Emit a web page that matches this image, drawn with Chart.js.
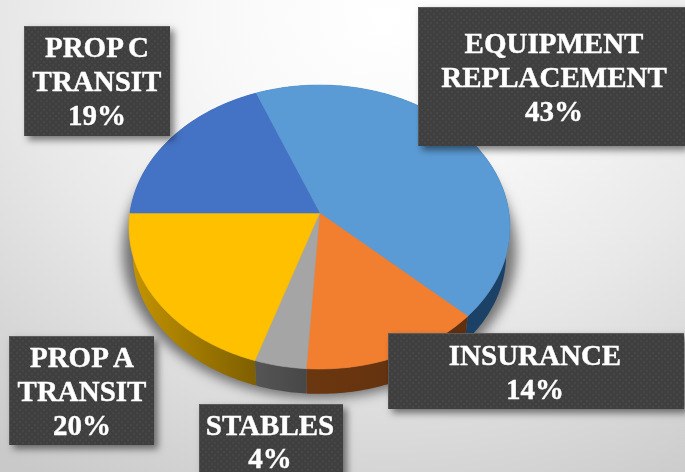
<!DOCTYPE html>
<html>
<head>
<meta charset="utf-8">
<style>
html,body{margin:0;padding:0;width:685px;height:472px;overflow:hidden;
background:radial-gradient(ellipse 640px 540px at 56% 4%,#ffffff 0%,#f8f8f8 28%,#e8e8e8 58%,#d8d8d8 80%,#c9c9c9 100%);}
canvas{display:block;}
</style>
<script src="https://cdn.jsdelivr.net/npm/chart.js@4"></script>
</head>
<body>
<canvas id="c" width="685" height="472"></canvas>
<script>
const categories = ["EQUIPMENT REPLACEMENT", "INSURANCE", "STABLES", "PROP A TRANSIT", "PROP C TRANSIT"];
const values = [43, 14, 4, 20, 19];
const labelLines = [["EQUIPMENT", "REPLACEMENT"], ["INSURANCE"], ["STABLES"], ["PROP A", "TRANSIT"], ["PROP C", "TRANSIT"]];
const topColors = ["#5B9BD5", "#F27F2F", "#A5A5A5", "#FFC000", "#4472C4"];
const sideColors = [["#1F4E79", "#1B4166"], ["#6B3710", "#5F2F0E"], ["#555555", "#474747"], ["#C49400", "#7F6000"], ["#2A4A80", "#2A4A80"]];

// label box geometry, in the same order as categories
const boxes = [
  {x:418, y:7,   w:267, h:139, cx:554, base:[53,87,121]},
  {x:388, y:333, w:296, h:76,  cx:535, base:[365,399]},
  {x:199, y:404, w:144, h:80,  cx:270, base:[435,468]},
  {x:9,   y:336, w:145, h:109, cx:82,  base:[367,401,435]},
  {x:24,  y:26,  w:146, h:110, cx:97,  base:[57,91,125]}
];

// perspective projection of the pie disc
const P = {cx:319.5, cy:213, A:189.5, B:140.6, k:0.0986, depth:28, baseScale:0.98};
function project(a, lower, grow) {
  const u = Math.cos(a), v = Math.sin(a), d = 1 - P.k * v, s = grow || 1;
  let x = P.A * u / d * s, y = P.B * v / d * s;
  if (lower) { x *= P.baseScale; y = y * P.baseScale + P.depth; }
  return [P.cx + x, P.cy + y];
}

// pie slices keep the library's computed angles; only the projection differs
Chart.ArcElement.prototype.draw = function (ctx) {
  const a0 = this.startAngle, a1 = this.endAngle, n = Math.max(8, Math.ceil((a1 - a0) * 60));
  ctx.save();
  ctx.beginPath();
  ctx.moveTo(P.cx, P.cy);
  for (let i = 0; i <= n; i++) {
    const p = project(a0 + (a1 - a0) * i / n);
    ctx.lineTo(p[0], p[1]);
  }
  ctx.closePath();
  ctx.fillStyle = this.options.backgroundColor;
  ctx.strokeStyle = this.options.backgroundColor;
  ctx.lineWidth = 0.6;
  ctx.fill();
  ctx.stroke();
  ctx.restore();
};

function dotPattern(ctx) {
  const t = document.createElement("canvas");
  t.width = 6; t.height = 6;
  const g = t.getContext("2d");
  g.fillStyle = "#3f3f3f"; g.fillRect(0, 0, 6, 6);
  g.fillStyle = "#474747"; g.fillRect(1, 1, 2, 2); g.fillRect(4, 4, 2, 2);
  return ctx.createPattern(t, "repeat");
}

const pie3d = {
  id: "pie3d",
  beforeDatasetsDraw(chart) {
    const ctx = chart.ctx, arcs = chart.getDatasetMeta(0).data, off = 2000;
    // soft cast shadow
    ctx.save();
    ctx.shadowColor = "rgba(0,0,0,0.5)";
    ctx.shadowBlur = 12;
    ctx.shadowOffsetX = off;
    ctx.shadowOffsetY = 0;
    ctx.fillStyle = "#000";
    ctx.beginPath();
    for (let i = 0; i <= 180; i++) {
      const p = project(i / 180 * Math.PI * 2, true, 1.055);
      ctx.lineTo(p[0] - off, p[1] - 4);
    }
    ctx.closePath();
    ctx.fill();
    ctx.restore();
    // extruded side walls
    arcs.forEach((arc, idx) => {
      const a0 = arc.startAngle, a1 = arc.endAngle, n = Math.max(8, Math.ceil((a1 - a0) * 60));
      const first = project(a0), last = project(a1);
      const g = ctx.createLinearGradient(Math.min(first[0], last[0]), 0, Math.max(first[0], last[0]), 0);
      g.addColorStop(0, sideColors[idx][0]);
      g.addColorStop(1, sideColors[idx][1]);
      ctx.beginPath();
      for (let i = 0; i <= n; i++) {
        const p = project(a0 + (a1 - a0) * i / n);
        ctx.lineTo(p[0], p[1]);
      }
      for (let i = n; i >= 0; i--) {
        const p = project(a0 + (a1 - a0) * i / n, true);
        ctx.lineTo(p[0], p[1]);
      }
      ctx.closePath();
      ctx.fillStyle = g;
      ctx.fill();
    });
  },
  afterDatasetsDraw(chart) {
    const ctx = chart.ctx, pat = dotPattern(ctx), vals = chart.data.datasets[0].data;
    boxes.forEach((b, idx) => {
      ctx.save();
      ctx.shadowColor = "rgba(0,0,0,0.5)";
      ctx.shadowBlur = 7;
      ctx.shadowOffsetX = 4;
      ctx.shadowOffsetY = 4;
      ctx.fillStyle = "#3f3f3f";
      ctx.fillRect(b.x, b.y, b.w, b.h);
      ctx.restore();
      ctx.fillStyle = pat;
      ctx.fillRect(b.x, b.y, b.w, b.h);
      ctx.fillStyle = "#5c5c5c";
      ctx.fillRect(b.x, b.y, b.w, 1);
      ctx.fillStyle = "#555555";
      ctx.fillRect(b.x, b.y, 1, b.h);
      ctx.fillStyle = "#ffffff";
      ctx.strokeStyle = "#ffffff";
      ctx.lineWidth = 0.4;
      ctx.font = "bold 29px 'Liberation Serif'";
      ctx.wordSpacing = "-3px";
      ctx.textAlign = "center";
      ctx.textBaseline = "alphabetic";
      const lines = labelLines[idx].concat([vals[idx] + "%"]);
      lines.forEach((t, i) => {
        ctx.fillText(t, b.cx, b.base[i]);
        ctx.strokeText(t, b.cx, b.base[i]);
      });
      ctx.wordSpacing = "0px";
    });
  }
};

new Chart(document.getElementById("c"), {
  type: "pie",
  data: {
    labels: categories,
    datasets: [{data: values, backgroundColor: topColors, borderWidth: 0}]
  },
  options: {
    responsive: false,
    animation: false,
    rotation: 338.4,
    events: [],
    layout: {padding: 0},
    plugins: {legend: {display: false}, tooltip: {enabled: false}}
  },
  plugins: [pie3d]
});
</script>
</body>
</html>
